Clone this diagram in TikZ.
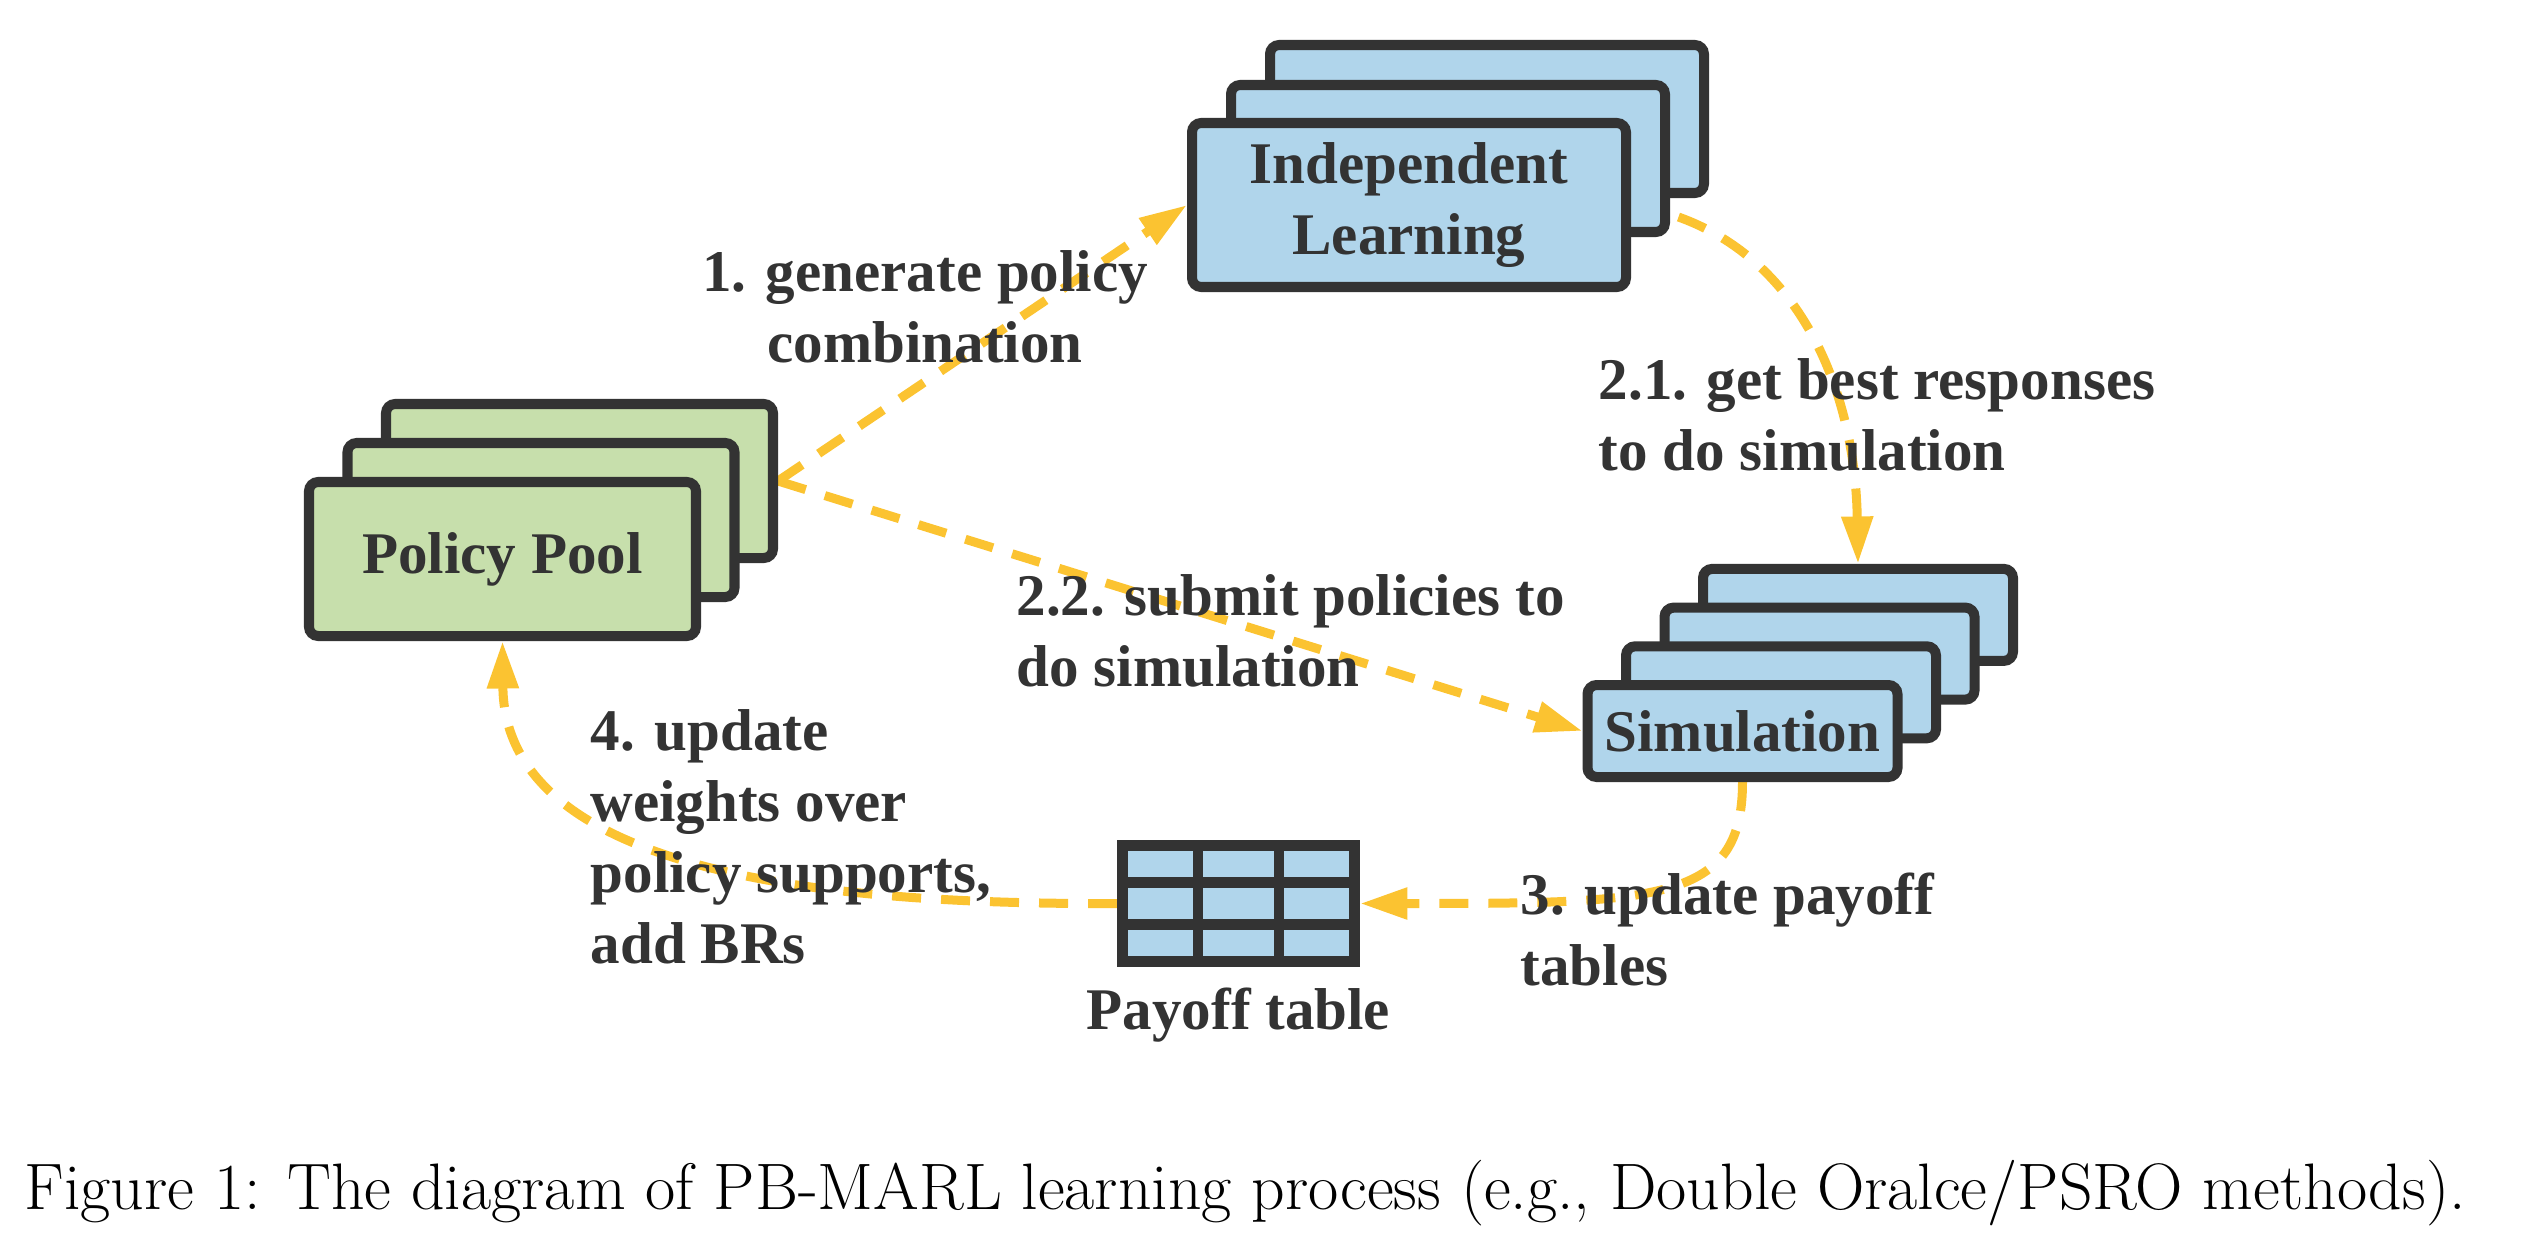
\documentclass[tikz,border=0pt]{standalone}
\usepackage{fontspec}
\newfontfamily\diagfont{Liberation Serif}
\usetikzlibrary{positioning,calc,arrows.meta,backgrounds}

\definecolor{darkgrey}{HTML}{333333}
\definecolor{cardblue}{HTML}{B0D5EB}
\definecolor{cardgreen}{HTML}{C7DFAC}
\definecolor{flowyellow}{HTML}{FBC331}

\tikzset{
    card/.style={draw=darkgrey, line width=2.85pt, rounded corners=2.6pt, text=darkgrey,
        font=\diagfont\bfseries\fontsize{16.8}{20.2}\selectfont, align=center, inner sep=0pt},
    bluecard/.style={card, fill=cardblue},
    greencard/.style={card, fill=cardgreen},
    poolsize/.style={minimum width=3.87cm, minimum height=1.54cm},
    simsize/.style={minimum width=3.10cm, minimum height=0.92cm},
    steplabel/.style={text=darkgrey, font=\diagfont\bfseries\fontsize{16.8}{20.2}\selectfont,
        inner sep=0pt, align=left, anchor=base west},
    flow/.style={flowyellow, line width=2.56pt, dash pattern=on 8.25pt off 5.7pt,
        -{Triangle[length=13.5pt,width=8.5pt]}}
}

\begin{document}
\begin{tikzpicture}
    \useasboundingbox (0,0) rectangle (25.28,-12.38);

    % policy pool
    \foreach \i in {2,1}
        \node[greencard, poolsize] (pp\i) at ({5.025+0.385*\i},{-5.59+0.39*\i}) {};
    \node[greencard, poolsize] (pp0) at (5.025,-5.59) {Policy Pool};

    % independent learning
    \node[bluecard, minimum width=4.34cm, minimum height=1.48cm] (il2) at (14.87,-1.19) {};
    \node[bluecard, minimum width=4.34cm, minimum height=1.47cm] (il1) at (14.48,-1.585) {};
    \node[bluecard, minimum width=4.34cm, minimum height=1.64cm] (il0) at (14.09,-2.05) {Independent\\Learning};

    % simulation
    \foreach \i in {3,2,1}
        \node[bluecard, simsize] (sim\i) at ({17.425+0.385*\i},{-7.31+0.387*\i}) {};
    \node[bluecard, simsize] (sim0) at (17.425,-7.31) {Simulation};

    % payoff table
    \node[draw=darkgrey, fill=cardblue, line width=3.1pt, minimum width=2.32cm, minimum height=1.16cm,
        inner sep=0pt] (pay) at (12.385,-9.035) {};
    \foreach \k in {1,2} {
        \draw[darkgrey, line width=3.1pt] ($(pay.north west)!\k/3!(pay.north east)$) -- ($(pay.south west)!\k/3!(pay.south east)$);
        \draw[darkgrey, line width=3.1pt] ($(pay.north west)!\k/3!(pay.south west)$) -- ($(pay.north east)!\k/3!(pay.south east)$);
    }
    \node[steplabel, anchor=north, align=center] (paylabel) [below=0.2cm of pay] {Payoff table};

    \begin{scope}[on background layer]
        \draw[flow] (pp2.east) -- (il0.west);
        \draw[flow] (pp2.east) -- (sim0.west);
        \draw[flow] (il0.east) .. controls +(1.59,-0.25) and +(-0.03,1.84) .. (sim3.north);
        \draw[flow] (sim0.south) .. controls +(0,-1.2) and +(3.0,0) .. (pay.east);
        \draw[flow] (pay.west) .. controls +(-2.67,-0.01) and +(0.02,-2.39) .. (pp0.south);
    \end{scope}

    % step labels (base = last line)
    \node[steplabel, anchor=base, align=center] (step1) at (9.25,-3.62) {1. generate policy\\combination};
    \node[steplabel] (step21) at (15.98,-4.70) {2.1. get best responses\\to do simulation};
    \node[steplabel] (step22) at (10.16,-6.86) {2.2. submit policies to\\do simulation};
    \node[steplabel] (step3) at (15.20,-9.85) {3. update payoff\\tables};
    \node[steplabel] (step4) at (5.90,-9.63) {4. update\\weights over\\policy supports,\\add BRs};

    \node[anchor=base west, inner sep=0pt, font=\fontsize{18.7}{22}\selectfont] (caption) at (0.24,-12.09)
        {Figure 1: The diagram of PB-MARL learning process (e.g., Double Oralce/PSRO methods).};
\end{tikzpicture}
\end{document}
